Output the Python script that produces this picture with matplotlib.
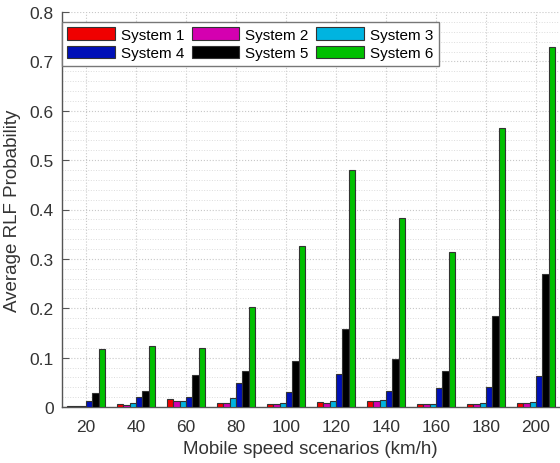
import numpy as np
import matplotlib
matplotlib.use("Agg")
import matplotlib.pyplot as plt
from matplotlib.ticker import MultipleLocator

# ── data ─────────────────────────────────────────────────────────────────────
speeds = [20, 40, 60, 80, 100, 120, 140, 160, 180, 200]
systems = ["System 1", "System 2", "System 3", "System 4", "System 5", "System 6"]
yticks = [0, 0.1, 0.2, 0.3, 0.4, 0.5, 0.6, 0.7, 0.8]
ytick_labels = ["0", "0.1", "0.2", "0.3", "0.4", "0.5", "0.6", "0.7", "0.8"]

sys1 = [0.002, 0.007, 0.016, 0.009, 0.006, 0.010, 0.013, 0.006, 0.007, 0.008]
sys2 = [0.002, 0.004, 0.012, 0.009, 0.006, 0.008, 0.012, 0.006, 0.007, 0.008]
sys3 = [0.003, 0.008, 0.013, 0.018, 0.009, 0.012, 0.014, 0.006, 0.008, 0.011]
sys4 = [0.012, 0.020, 0.021, 0.048, 0.030, 0.067, 0.032, 0.038, 0.040, 0.063]
sys5 = [0.028, 0.032, 0.064, 0.073, 0.093, 0.157, 0.097, 0.073, 0.185, 0.270]
sys6 = [0.118, 0.123, 0.119, 0.203, 0.327, 0.481, 0.383, 0.314, 0.565, 0.729]

series = [sys1, sys2, sys3, sys4, sys5, sys6]
colors = ["#f00000", "#d400b0", "#00b4e0", "#0010b8", "#000000", "#00c000"]

plt.rcParams["font.family"] = ["Liberation Sans", "DejaVu Sans"]

fig = plt.figure(figsize=(5.6, 4.64), dpi=100)
ax = fig.add_axes([62 / 560, 56 / 464, 497 / 560, 395 / 464])

x = np.arange(1, len(speeds) + 1)
bw = 0.125
handles = []
for i, (vals, c, name) in enumerate(zip(series, colors, systems)):
    h = ax.bar(x + (i - 2.5) * 0.128, vals, width=bw, color=c,
               edgecolor="#333333", linewidth=0.8, label=name, zorder=3)
    handles.append(h)

# ── axes styling (MATLAB-ish) ────────────────────────────────────────────────
ax.set_xlim(0.52, 10.46)
ax.set_ylim(0, 0.8)
ax.set_xticks(x)
ax.set_xticklabels([str(s) for s in speeds])
ax.set_yticks(yticks)
ax.set_yticklabels(ytick_labels)
ax.yaxis.set_minor_locator(MultipleLocator(0.02))

ax.grid(True, which="major", ls=":", lw=0.8, color="#c8c8c8", zorder=0)
ax.grid(True, which="minor", axis="y", ls=":", lw=0.7, color="#dcdcdc", zorder=0)

for s in ["top", "right"]:
    ax.spines[s].set_visible(False)
for s in ["left", "bottom"]:
    ax.spines[s].set_color("#555555")
    ax.spines[s].set_linewidth(1.0)

ax.tick_params(axis="both", which="major", direction="in", length=5,
               labelsize=12.5, colors="#555555", labelcolor="#333333", pad=6)
ax.tick_params(axis="both", which="minor", length=0)
ax.tick_params(axis="x", length=0, pad=9)

ax.set_xlabel("Mobile speed scenarios (km/h)", fontsize=13.5, color="#333333", labelpad=4)
ax.set_ylabel("Average RLF Probability", fontsize=13.5, color="#333333", labelpad=6)

# legend: row-wise order in 3 columns
order = [0, 3, 1, 4, 2, 5]
leg = ax.legend([handles[k] for k in order], [systems[k] for k in order],
                ncol=3, loc="upper left", bbox_to_anchor=(0.0, 1 - 10 / 395),
                borderaxespad=0, fontsize=11, handlelength=3.1, handleheight=0.9,
                handletextpad=0.4, columnspacing=0.5, labelspacing=0.25,
                borderpad=0.35, fancybox=False, framealpha=1, edgecolor="#777777")
leg.get_frame().set_linewidth(1.0)
leg.set_zorder(10)

fig.savefig("out.png", dpi=100)
